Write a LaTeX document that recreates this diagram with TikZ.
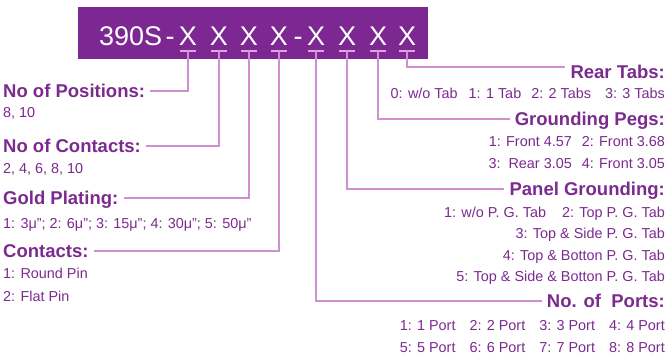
\documentclass[tikz,border=0pt]{standalone}
\usepackage{fontspec}
\setmainfont{Liberation Sans}
\usepackage{tikz}
\usetikzlibrary{positioning,calc}
\definecolor{barpurple}{HTML}{7D2792}
\definecolor{ink}{HTML}{7B2A8E}
\definecolor{wirec}{HTML}{D08FD0}
\definecolor{tickc}{HTML}{DCA5DC}

\begin{document}
\begin{tikzpicture}[x=1pt, y=-1pt,
  head/.style={inner sep=0pt, text height=13pt, text depth=0pt, font=\fontsize{18.5}{20}\selectfont\bfseries, text=ink},
  val/.style={inner sep=0pt, text height=10pt, text depth=0pt, font=\fontsize{14.4}{16}\selectfont, text=ink},
  code/.style={inner sep=0pt, text height=20pt, text depth=0pt, font=\fontsize{27}{30}\selectfont, text=white},
  wire/.style={draw=wirec, line width=1.6pt},
  tbar/.style={draw=tickc, line width=1.6pt}]
\useasboundingbox (0,0) rectangle (669,354);
\node[fill=barpurple, minimum width=350pt, minimum height=52pt, inner sep=0pt, anchor=north west] (bn) at (78,7) {};
\node[code, anchor=west] (pre) at (99,35) {390S};
\node[code] (hya) at (170,35) {-};
\node[code] (hyb) at (298,35) {-};
\foreach \i/\xp in {1/188,2/219,3/249,4/279,5/316,6/347,7/378,8/407} {
  \node[code] (x\i) at (\xp,35) {X};
  \coordinate (t\i) at ([yshift=-16pt]x\i.center);
  \draw[tbar] ([xshift=-8pt]t\i) -- ([xshift=8pt]t\i);
}
\node[head, anchor=west] (pos) at (3,91) {No of Positions:};
\node[val, anchor=west] (posv) at (3,112) {8, 10};
\node[head, anchor=west] (cnt) at (3,146) {No of Contacts:};
\node[val, anchor=west] (cntv) at (3,168) {2, 4, 6, 8, 10};
\node[head, anchor=west] (gold) at (3,198) {Gold Plating:};
\node[val, anchor=west] (goldv) at (3,223) {1: 3μ”; 2: 6μ”; 3: 15μ”; 4: 30μ”; 5: 50μ”};
\node[head, anchor=west] (pin) at (3,251) {Contacts:};
\node[val, anchor=west] (pin1) at (3,273) {1: Round Pin};
\node[val, anchor=west] (pin2) at (3,296) {2: Flat Pin};
\node[head, anchor=east] (rear) at (665,72) {Rear Tabs:};
\node[val, anchor=east] (rearv) at (665,93) {0: w/o Tab\hspace{11pt}1: 1 Tab\hspace{10pt}2: 2 Tabs\hspace{14pt}3: 3 Tabs};
\node[head, anchor=east] (peg) at (665,119) {Grounding Pegs:};
\node[val, anchor=east] (peg1) at (665,141) {1: Front 4.57\hspace{10pt}2: Front 3.68};
\node[val, anchor=east] (peg2) at (665,163) {3:\ \ Rear 3.05\hspace{10pt}4: Front 3.05};
\node[head, anchor=east] (pg) at (665,189) {Panel Grounding:};
\node[val, anchor=east] (pg1) at (665,212) {1: w/o P. G. Tab\hspace{16pt}2: Top P. G. Tab};
\node[val, anchor=east] (pg2) at (665,233) {3: Top \& Side P. G. Tab};
\node[val, anchor=east] (pg3) at (665,255) {4: Top \& Botton P. G. Tab};
\node[val, anchor=east] (pg4) at (665,276) {5: Top \& Side \& Botton P. G. Tab};
\node[head, anchor=east] (port) at (665,301) {No. of\ \ Ports:};
\node[val, anchor=east] (port1) at (665,325) {1: 1 Port\hspace{14pt}2: 2 Port\hspace{14pt}3: 3 Port\hspace{14pt}4: 4 Port};
\node[val, anchor=east] (port2) at (665,347) {5: 5 Port\hspace{14pt}6: 6 Port\hspace{14pt}7: 7 Port\hspace{14pt}8: 8 Port};
\foreach \a/\b in {1/pos,2/cnt,3/gold,4/pin} \draw[wire] (t\a) |- ([xshift=5pt]\b.east);
\foreach \a/\b/\s in {5/port/0,6/pg/0,7/peg/0,8/rear/5} \draw[wire] (t\a) |- ([xshift=-5pt,yshift=\s pt]\b.west);
\end{tikzpicture}
\end{document}
